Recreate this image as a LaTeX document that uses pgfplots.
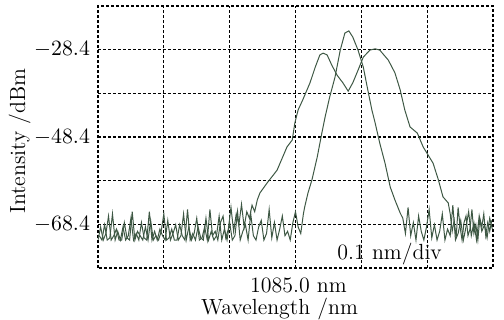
\documentclass[border=0pt]{standalone}
\usepackage{pgfplots}
\pgfplotsset{compat=1.18}
\definecolor{trace}{RGB}{62,88,68}
\begin{document}
\begin{tikzpicture}
\begin{axis}[
  name=ax,
  scale only axis,
  width=197.5bp, height=131bp,
  xmin=1084.7, xmax=1085.3,
  ymin=-78.4, ymax=-18.4,
  xtick={1085.0}, xticklabels={1085.0 nm},
  minor xtick={1084.8,1084.9,1085.1,1085.2},
  ytick={-68.4,-48.4,-28.4},
  yticklabels={$-68.4$,$-48.4$,$-28.4$},
  minor ytick={-58.4,-38.4},
  grid=both,
  major grid style={black, line width=0.55pt, dash pattern=on 1.5bp off 1bp},
  minor grid style={black, line width=0.55pt, dash pattern=on 1.5bp off 1bp},
  axis line style={black, line width=0.55pt, dash pattern=on 1.5bp off 1bp},
  major tick length=0pt, minor tick length=0pt,
  xticklabel style={yshift=-1.5bp, xshift=1.5bp, font=\fontsize{11}{13}\selectfont},
  yticklabel style={xshift=-0.5bp, font=\fontsize{10.5}{12}\selectfont},
  xlabel={Wavelength /nm},
  ylabel={Intensity /dBm},
  xlabel style={yshift=4.5bp, xshift=-8bp, font=\fontsize{11}{13}\selectfont},
  ylabel style={yshift=-5bp, xshift=-2bp, font=\fontsize{11}{13}\selectfont},
  clip=true,
]
% narrow trace
\addplot[trace, line width=0.5pt] coordinates {
(1084.700,-72.0)(1084.704,-69.0)(1084.708,-72.0)(1084.712,-70.5)(1084.716,-66.5)(1084.720,-72.0)(1084.724,-71.0)(1084.728,-69.5)(1084.732,-72.0)(1084.736,-72.0)
(1084.740,-68.0)(1084.744,-71.5)(1084.748,-72.0)(1084.752,-65.5)(1084.756,-72.0)(1084.760,-70.0)(1084.764,-71.0)(1084.768,-72.0)(1084.772,-69.0)(1084.776,-72.0)
(1084.780,-67.5)(1084.784,-72.0)(1084.788,-71.0)(1084.792,-72.0)(1084.796,-70.0)(1084.800,-66.0)(1084.804,-72.0)(1084.808,-71.5)(1084.812,-69.5)(1084.816,-72.0)
(1084.820,-72.0)(1084.824,-68.5)(1084.828,-71.0)(1084.832,-72.0)(1084.836,-65.0)(1084.840,-72.0)(1084.844,-70.5)(1084.848,-72.0)(1084.852,-69.0)(1084.856,-71.5)
(1084.860,-72.0)(1084.864,-67.0)(1084.868,-72.0)(1084.872,-70.0)(1084.876,-72.0)(1084.880,-71.0)(1084.884,-66.5)(1084.888,-72.0)(1084.892,-69.5)(1084.896,-72.0)
(1084.900,-68.0)(1084.904,-72.0)(1084.908,-71.0)(1084.912,-65.5)(1084.916,-72.0)(1084.920,-70.0)(1084.924,-68.5)(1084.928,-72.0)(1084.932,-66.0)(1084.936,-71.0)
(1084.940,-72.0)(1084.944,-69.0)(1084.948,-67.5)(1084.952,-72.0)(1084.956,-70.5)(1084.960,-65.0)(1084.964,-71.5)(1084.968,-68.0)(1084.972,-72.0)(1084.976,-69.5)
(1084.980,-66.5)(1084.984,-71.0)(1084.988,-70.0)(1084.992,-72.0)(1084.996,-68.0)(1085.000,-65.5)(1085.004,-69.0)(1085.008,-70.5)(1085.012,-66.0)
(1085.014,-64.4)(1085.019,-61.2)(1085.025,-58.2)(1085.033,-53.0)(1085.040,-47.5)(1085.045,-43.8)(1085.052,-39.2)(1085.060,-34.7)(1085.068,-28.5)(1085.075,-24.6)
(1085.081,-24.1)(1085.087,-25.5)(1085.095,-28.5)(1085.103,-32.4)(1085.109,-37.0)(1085.116,-42.2)(1085.121,-45.2)(1085.128,-49.8)(1085.136,-54.4)(1085.144,-59.9)
(1085.151,-62.8)(1085.159,-65.8)
(1085.163,-67.0)(1085.167,-70.5)(1085.171,-64.5)(1085.175,-71.0)(1085.179,-68.0)(1085.183,-72.0)(1085.187,-66.5)(1085.191,-70.0)(1085.195,-72.0)(1085.199,-69.0)
(1085.203,-65.0)(1085.207,-71.5)(1085.211,-68.5)(1085.215,-72.0)(1085.219,-70.0)(1085.223,-66.0)(1085.227,-72.0)(1085.231,-69.5)(1085.235,-71.0)(1085.239,-64.0)
(1085.243,-72.0)(1085.247,-70.5)(1085.251,-67.5)(1085.255,-72.0)(1085.259,-69.0)(1085.263,-65.5)(1085.267,-71.0)(1085.271,-68.0)(1085.275,-72.0)(1085.279,-66.5)
(1085.283,-70.0)(1085.287,-68.5)(1085.291,-71.5)(1085.295,-67.0)(1085.299,-69.5)
};
% broad double-peaked trace
\addplot[trace, line width=0.5pt] coordinates {
(1084.702,-71.0)(1084.706,-72.0)(1084.710,-68.5)(1084.714,-72.0)(1084.718,-71.5)(1084.722,-66.0)(1084.726,-72.0)(1084.730,-70.0)(1084.734,-72.0)(1084.738,-69.0)
(1084.742,-72.0)(1084.746,-71.0)(1084.750,-67.0)(1084.754,-72.0)(1084.758,-70.5)(1084.762,-72.0)(1084.766,-68.0)(1084.770,-71.5)(1084.774,-72.0)(1084.778,-65.5)
(1084.782,-72.0)(1084.786,-70.0)(1084.790,-72.0)(1084.794,-69.5)(1084.798,-71.0)(1084.802,-72.0)(1084.806,-67.5)(1084.810,-72.0)(1084.814,-70.5)(1084.818,-68.5)
(1084.822,-72.0)(1084.826,-71.0)(1084.830,-66.0)(1084.834,-72.0)(1084.838,-69.0)(1084.842,-72.0)(1084.846,-70.5)(1084.850,-67.0)(1084.854,-72.0)(1084.858,-71.5)
(1084.862,-69.0)(1084.866,-72.0)(1084.870,-65.0)(1084.874,-71.0)(1084.878,-70.0)(1084.882,-72.0)(1084.886,-68.0)(1084.890,-66.5)(1084.894,-71.5)(1084.898,-69.5)
(1084.902,-64.5)(1084.906,-70.0)(1084.910,-66.0)(1084.914,-68.5)(1084.918,-63.8)(1084.922,-69.0)(1084.926,-65.5)(1084.930,-67.0)(1084.934,-64.0)(1084.938,-65.5)
(1084.942,-62.8)(1084.946,-61.2)(1084.957,-58.9)(1084.972,-56.0)(1084.987,-50.7)(1084.995,-49.1)(1084.999,-45.2)(1085.004,-42.2)(1085.011,-39.9)(1085.022,-36.0)
(1085.030,-32.4)(1085.037,-29.6)(1085.042,-29.2)(1085.048,-29.6)(1085.055,-31.9)(1085.063,-34.2)(1085.072,-36.0)(1085.080,-37.9)(1085.087,-36.0)(1085.095,-33.1)
(1085.103,-30.1)(1085.113,-28.5)(1085.121,-28.2)(1085.128,-28.5)(1085.141,-30.8)(1085.151,-33.7)(1085.159,-37.6)(1085.166,-42.2)(1085.174,-46.1)(1085.185,-47.5)
(1085.194,-50.7)(1085.209,-54.4)(1085.217,-58.2)(1085.224,-62.1)(1085.232,-63.5)
(1085.235,-66.0)(1085.238,-70.0)(1085.241,-67.5)(1085.244,-71.5)(1085.247,-64.5)(1085.250,-69.0)(1085.253,-72.0)(1085.256,-68.0)(1085.259,-66.5)(1085.262,-71.0)
(1085.265,-69.5)(1085.268,-65.0)(1085.271,-70.5)(1085.274,-68.5)(1085.277,-72.0)(1085.280,-67.0)(1085.283,-69.0)(1085.286,-66.0)(1085.289,-71.0)(1085.292,-68.0)
(1085.295,-70.0)(1085.298,-67.5)
};
\node[anchor=center, inner sep=0pt, font=\fontsize{11}{13}\selectfont] at (axis cs:1085.143,-75.3) {0.1 nm/div};
\end{axis}
\pgfresetboundingbox
\path[use as bounding box] ([xshift=-49bp,yshift=-26bp]ax.south west) rectangle ([xshift=5.5bp,yshift=3bp]ax.north east);
\end{tikzpicture}
\end{document}
